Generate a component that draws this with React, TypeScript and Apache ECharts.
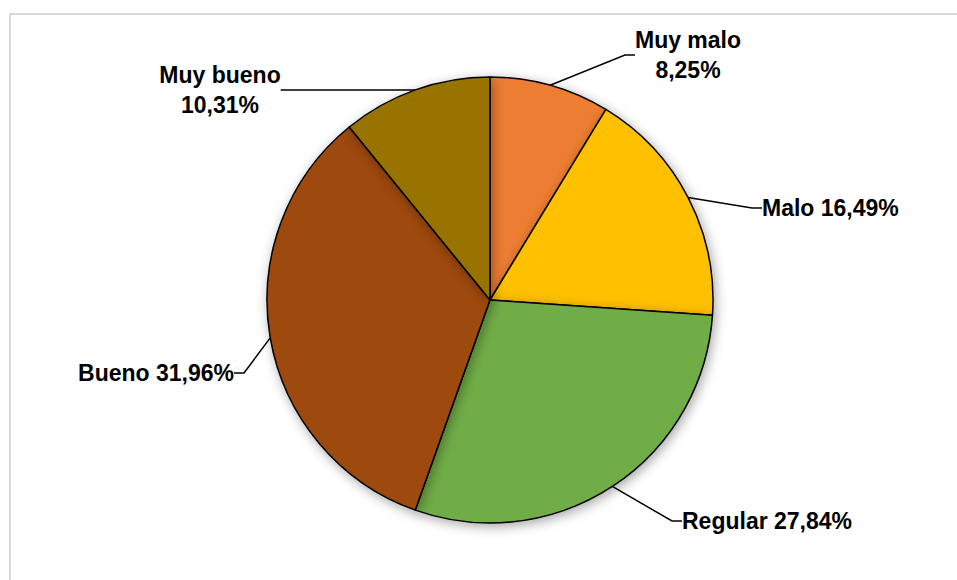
import React, { useEffect, useRef } from "react";
import * as echarts from "echarts";

const categories = ["Muy malo", "Malo", "Regular", "Bueno", "Muy bueno"];
const values = [8.25, 16.49, 27.84, 31.96, 10.31];
const colors = ["#ED7D31", "#FFC000", "#70AD47", "#9E480E", "#997300"];
const twoLineLabels = [true, false, false, false, true];
// label anchor positions (layout only)
const labelPos = [
  { x: 688, y: 55, align: "center" },
  { x: 762, y: 208, align: "left" },
  { x: 682, y: 521, align: "left" },
  { x: 234, y: 373, align: "right" },
  { x: 220, y: 90, align: "center" },
];

export default function App() {
  const ref = useRef<HTMLDivElement>(null);
  useEffect(() => {
    if (!ref.current) return;
    const chart = echarts.init(ref.current, undefined, { renderer: "svg" });
    chart.setOption({
      animation: false,
      backgroundColor: "#ffffff",
      graphic: [
        {
          type: "rect",
          shape: { x: 10, y: 14, width: 1100, height: 1000 },
          style: { fill: "none", stroke: "#d9d9d9", lineWidth: 2 },
          silent: true,
        },
      ],
      series: [
        {
          type: "pie",
          center: [490, 300],
          radius: 223,
          startAngle: 90,
          clockwise: true,
          data: categories.map((c, i) => ({
            name: c,
            value: values[i],
            itemStyle: { color: colors[i] },
          })),
          itemStyle: {
            borderColor: "#000",
            borderWidth: 1.5,
            shadowBlur: 12,
            shadowColor: "rgba(0,0,0,0.35)",
            shadowOffsetX: 2,
            shadowOffsetY: 3,
          },
          label: {
            show: true,
            color: "#000",
            fontFamily: "Liberation Sans, Arial, sans-serif",
            fontWeight: "bold",
            fontSize: 23,
            lineHeight: 30,
            formatter: (p: any) =>
              p.name +
              (twoLineLabels[p.dataIndex] ? "\n" : " ") +
              p.value.toFixed(2).replace(".", ",") +
              "%",
          },
          labelLine: {
            show: true,
            lineStyle: { color: "#000", width: 1.5 },
            length: 20,
            length2: 10,
          },
          labelLayout: (params: any) => {
            const lp = labelPos[params.dataIndex];
            return {
              x: lp.x,
              y: lp.y,
              align: lp.align,
              verticalAlign: "middle",
            };
          },
        },
      ],
    });
    return () => chart.dispose();
  }, []);
  return (
    <div
      ref={ref}
      style={{ position: "fixed", left: 0, top: 0, width: 957, height: 580 }}
    />
  );
}
